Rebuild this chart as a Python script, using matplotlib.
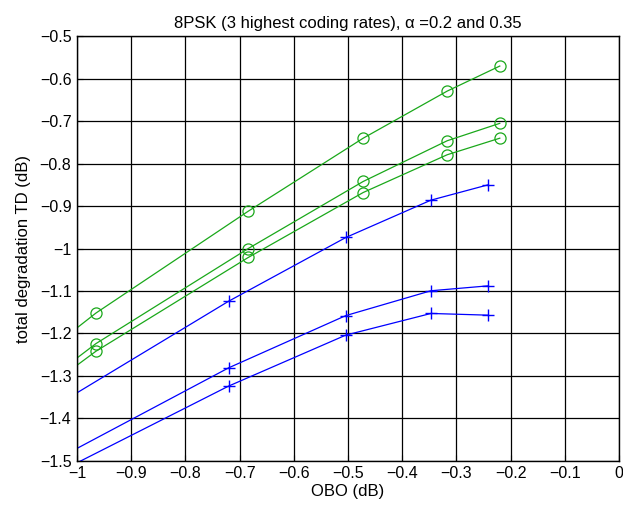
import matplotlib
matplotlib.use('Agg')
import matplotlib.pyplot as plt

plt.rcParams['font.family'] = ['Liberation Sans', 'DejaVu Sans']

# left end of each line at OBO = -1 (no marker there)
x_start = -1.0

# green curves (circles)
x_green = [-0.965, -0.684, -0.472, -0.317, -0.220]
g1 = [-1.152, -0.912, -0.740, -0.629, -0.570]
g2 = [-1.224, -1.000, -0.842, -0.746, -0.705]
g3 = [-1.242, -1.021, -0.868, -0.779, -0.740]
g_start = [-1.187, -1.258, -1.275]

# blue curves (plus)
x_blue = [-0.720, -0.504, -0.347, -0.242]
b1 = [-1.124, -0.974, -0.886, -0.850]
b2 = [-1.281, -1.158, -1.0995, -1.088]
b3 = [-1.324, -1.204, -1.153, -1.157]
b_start = [-1.340, -1.471, -1.505]

xticks = [-1, -0.9, -0.8, -0.7, -0.6, -0.5, -0.4, -0.3, -0.2, -0.1, 0]
xticklabels = ['\u22121', '\u22120.9', '\u22120.8', '\u22120.7', '\u22120.6', '\u22120.5',
               '\u22120.4', '\u22120.3', '\u22120.2', '\u22120.1', '0']
yticks = [-1.5, -1.4, -1.3, -1.2, -1.1, -1, -0.9, -0.8, -0.7, -0.6, -0.5]
yticklabels = ['\u22121.5', '\u22121.4', '\u22121.3', '\u22121.2', '\u22121.1', '\u22121',
               '\u22120.9', '\u22120.8', '\u22120.7', '\u22120.6', '\u22120.5']

green = '#1aa81a'
blue = '#0000ff'

fig = plt.figure(figsize=(6.23, 5.07), dpi=100)
ax = fig.add_axes([0.1236, 0.0913, 0.870, 0.837])

for ys, y0 in zip([g1, g2, g3], g_start):
    ax.plot([x_start] + x_green, [y0] + ys, color=green, lw=0.9)
    ax.plot(x_green, ys, linestyle='none', marker='o', ms=8, mfc='none',
            mec=green, mew=0.9)

for ys, y0 in zip([b1, b2, b3], b_start):
    ax.plot([x_start] + x_blue, [y0] + ys, color=blue, lw=0.9)
    ax.plot(x_blue, ys, linestyle='none', marker='+', ms=9, mec=blue, mew=1.0)

ax.set_xlim(-1, 0)
ax.set_ylim(-1.5, -0.5)
ax.set_xticks(xticks)
ax.set_xticklabels(xticklabels)
ax.set_yticks(yticks)
ax.set_yticklabels(yticklabels)
ax.tick_params(direction='in', length=4, labelsize=11.5, pad=4)
ax.grid(True, color='black', lw=0.9, linestyle='-')
for s in ax.spines.values():
    s.set_linewidth(1.0)

ax.set_title('8PSK (3 highest coding rates), \u03b1 =0.2 and 0.35', fontsize=12, pad=6)
ax.set_xlabel('OBO (dB)', fontsize=12, labelpad=2)
ax.set_ylabel('total degradation TD (dB)', fontsize=12, labelpad=6)

fig.savefig('out.png', dpi=100)
